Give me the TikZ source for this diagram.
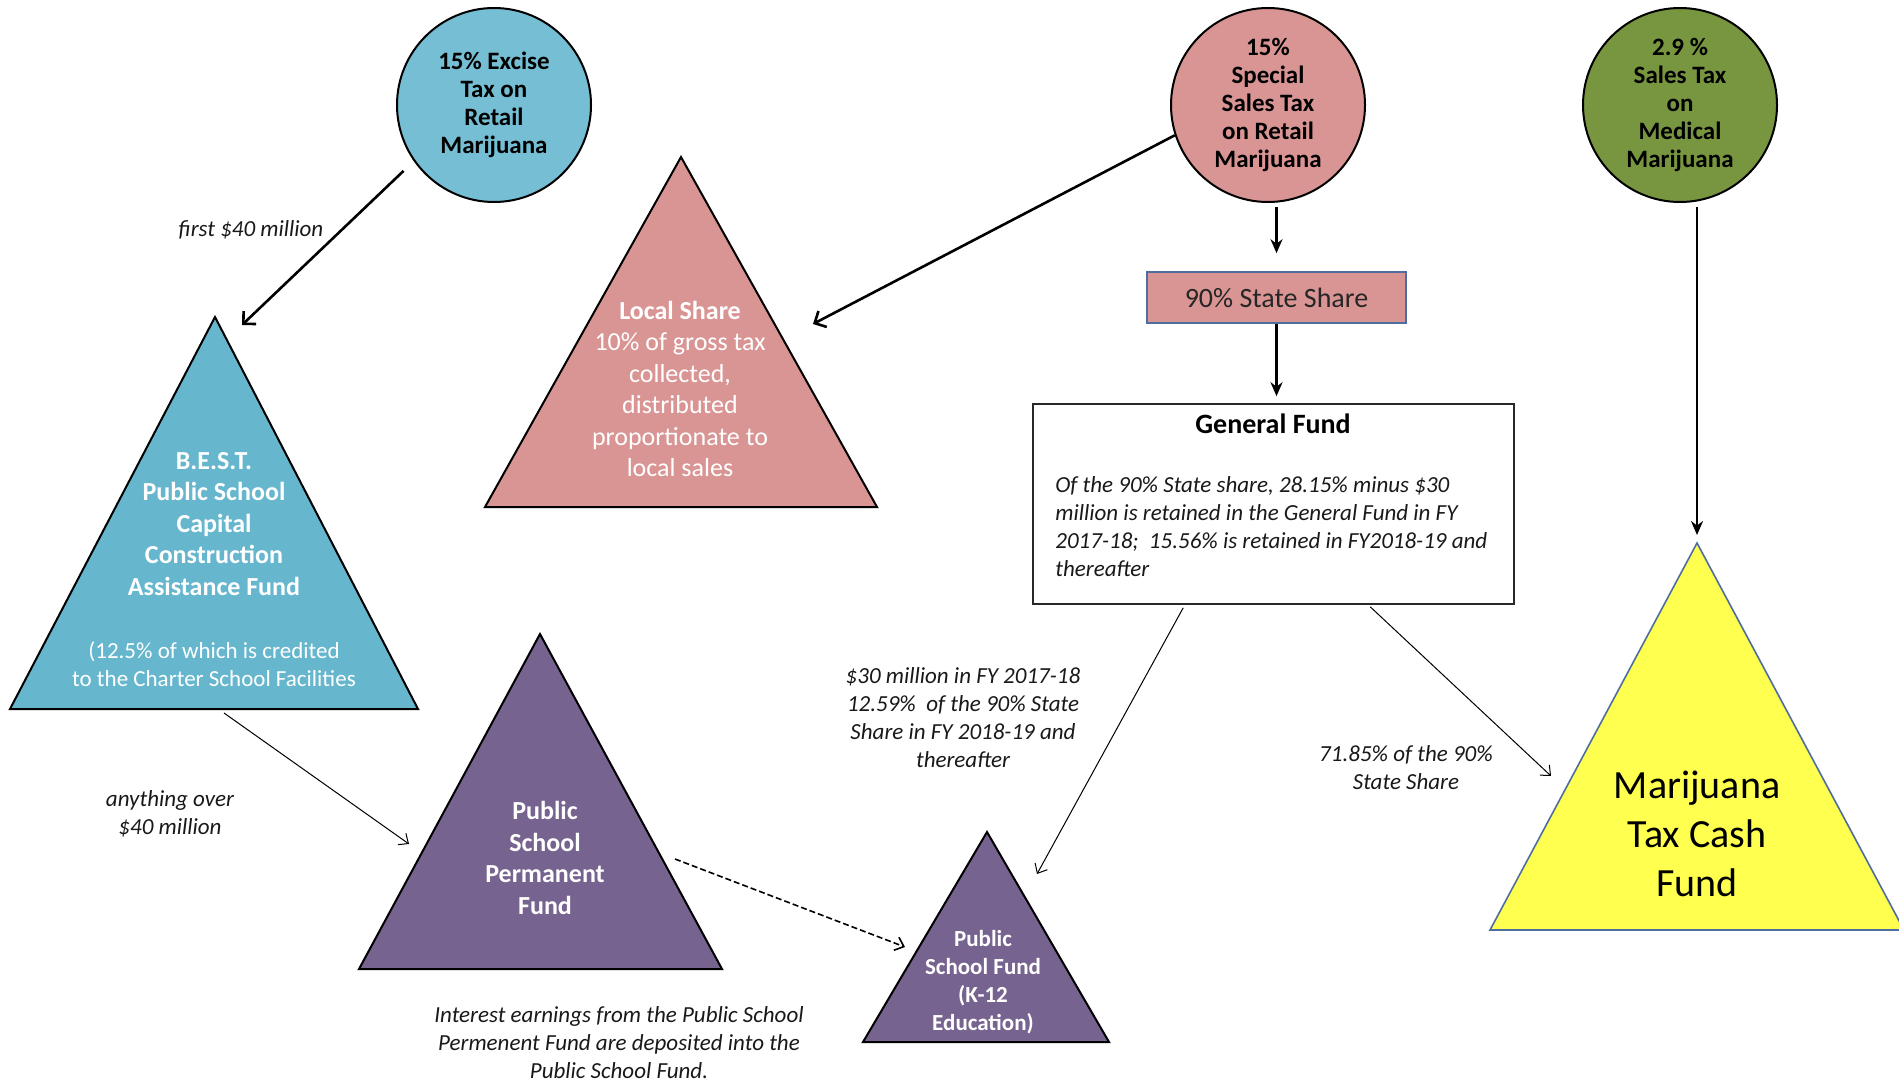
\documentclass[tikz,border=0pt]{standalone}
\usepackage{fontspec}
\setmainfont{Carlito}
\usetikzlibrary{arrows.meta}
\definecolor{excisecol}{RGB}{117,190,212}
\definecolor{bestcol}{RGB}{102,183,206}
\definecolor{pinkcol}{RGB}{217,149,148}
\definecolor{medcol}{RGB}{120,150,64}
\definecolor{purplecol}{RGB}{119,99,143}
\definecolor{yellowcol}{RGB}{255,255,80}
\definecolor{slatecol}{RGB}{79,110,160}
\definecolor{boxcol}{RGB}{40,40,40}

\begin{document}
\begin{tikzpicture}[x=5pt,y=5pt]
\tikzstyle{every node}+=[inner sep=0pt]
\tikzstyle{taxcircle}=[circle, draw=black, line width=1pt, minimum size=97pt, align=center, font=\fontsize{12.5}{14}\selectfont\bfseries]
\tikzstyle{fundtri}=[draw=black, line width=1pt]
\tikzstyle{fundtext}=[align=center, text=white, font=\fontsize{13}{15.75}\selectfont\bfseries]
\tikzstyle{note}=[align=center, text=black!90, font=\fontsize{11.5}{14}\selectfont\itshape]
\tikzstyle{bigarrow}=[line width=1.3pt, -{Straight Barb[length=4.5pt,width=9pt]}]
\tikzstyle{downarrow}=[line width=1.4pt, -{Stealth[length=7pt,width=6pt]}]
\tikzstyle{smallarrow}=[line width=0.5pt, -{Straight Barb[length=4pt,width=7pt]}]
\useasboundingbox [fill=white] (0,0) rectangle (189.9,-108.1);

\node [taxcircle, fill=excisecol] (excise) at (49.4,-10.5) {15\% Excise\\Tax on\\Retail\\Marijuana};
\node [taxcircle, fill=pinkcol] (special) at (126.8,-10.5) {15\%\\Special\\Sales Tax\\on Retail\\Marijuana};
\node [taxcircle, fill=medcol] (medical) at (168.0,-10.5) {2.9 \%\\Sales Tax\\on\\Medical\\Marijuana};

\filldraw [fundtri, fill=bestcol] (21.5,-31.7) coordinate (besttop) -- (1.0,-70.9) -- (41.8,-70.9) -- cycle;
\node [fundtext] (best) at (21.4,-52.4) {B.E.S.T.\\Public School\\Capital\\Construction\\Assistance Fund};
\node [fundtext, font=\fontsize{11.5}{14}\selectfont] (bestnote) at (21.4,-66.4) {(12.5\% of which is credited\\to the Charter School Facilities};

\filldraw [fundtri, fill=pinkcol] (68.1,-15.7) coordinate (localtop) -- (48.5,-50.7) -- (87.7,-50.7) -- cycle;
\node [fundtext, font=\fontsize{13}{15.75}\selectfont] (local) at (68.0,-38.9) {\textbf{Local Share}\\10\% of gross tax\\collected,\\distributed\\proportionate to\\local sales};

\node [draw=slatecol, line width=0.8pt, fill=pinkcol, minimum width=129.5pt, minimum height=25.5pt, text=black!85, font=\fontsize{14}{17}\selectfont] (state) at (127.65,-29.75) {90\% State Share};

\node [draw=boxcol, line width=0.8pt, fill=white, minimum width=240.5pt, minimum height=100pt] (gf) at (127.35,-50.4) {};
\node [font=\fontsize{14}{17}\selectfont\bfseries] (gftitle) at (127.3,-42.4) {General Fund};
\node [note, align=left, anchor=north west] (gftext) at (105.5,-47.6) {Of the 90\% State share, 28.15\% minus \$30\\million is retained in the General Fund in FY\\2017-18;\ \ 15.56\% is retained in FY2018-19 and\\thereafter};

\filldraw [draw=slatecol, line width=0.8pt, fill=yellowcol] (169.7,-54.3) coordinate (mtcftop) -- (149.0,-93.0) -- (190.4,-93.0) -- cycle;
\node [align=center, font=\fontsize{20}{24.5}\selectfont] (mtcf) at (169.7,-83.4) {Marijuana\\Tax Cash\\Fund};

\filldraw [fundtri, fill=purplecol] (54.0,-63.4) coordinate (pspftop) -- (35.9,-96.9) -- (72.2,-96.9) -- cycle;
\node [fundtext] (pspf) at (54.5,-85.8) {Public\\School\\Permanent\\Fund};

\filldraw [fundtri, fill=purplecol] (98.7,-83.2) coordinate (psftop) -- (86.3,-104.2) -- (110.9,-104.2) -- cycle;
\node [fundtext, font=\fontsize{11.5}{14}\selectfont\bfseries] (psf) at (98.3,-98.2) {Public\\School Fund\\(K-12\\Education)};

\coordinate (bestin) at (24.2,-32.5);
\coordinate (localin) at (81.3,-32.4);
\coordinate (bestout) at (22.4,-71.3);
\coordinate (pspfin) at (40.9,-84.4);
\coordinate (pspfout) at (67.5,-85.9);
\coordinate (psfleft) at (90.5,-94.7);
\coordinate (psfin) at (103.7,-87.4);
\coordinate (mtcfin) at (155.1,-77.6);

\draw [bigarrow, shorten <=7pt] (excise.215) -- (bestin);
\draw (bestin) ++(0.9,9.5) node [note] (firstlbl) {first \$40 million};
\draw [bigarrow] (special.198) -- (localin);
\draw [downarrow, shorten <=2pt, shorten >=9pt] (special.south -| state.north) -- (state.north);
\draw [downarrow, shorten >=3.5pt] (state.south) -- (state.south |- gf.north);
\draw [downarrow, shorten <=2pt, shorten >=4pt] (medical.south -| mtcftop) -- (mtcftop);

\draw [smallarrow] (bestout) -- (pspfin);
\node [note] (overlbl) at (17.0,-81.4) {anything over\\\$40 million};
\draw [smallarrow, line width=0.8pt, dash pattern=on 3pt off 1.5pt] (pspfout) -- (psfleft);
\draw [smallarrow] ([xshift=75.5pt,yshift=-1.5pt]gf.south west) -- (psfin);
\node [note] (thirtylbl) at (96.3,-71.8) {\$30 million in FY 2017-18\\12.59\%\ \ of the 90\% State\\Share in FY 2018-19 and\\thereafter};
\draw [smallarrow] ([xshift=169pt,yshift=-1pt]gf.south west) -- (mtcfin);
\node [note] (shareLbl) at (140.6,-76.8) {71.85\% of the 90\%\\State Share};

\node [note] (interest) at (61.9,-104.3) {Interest earnings from the Public School\\Permenent Fund are deposited into the\\Public School Fund.};
\end{tikzpicture}
\end{document}
